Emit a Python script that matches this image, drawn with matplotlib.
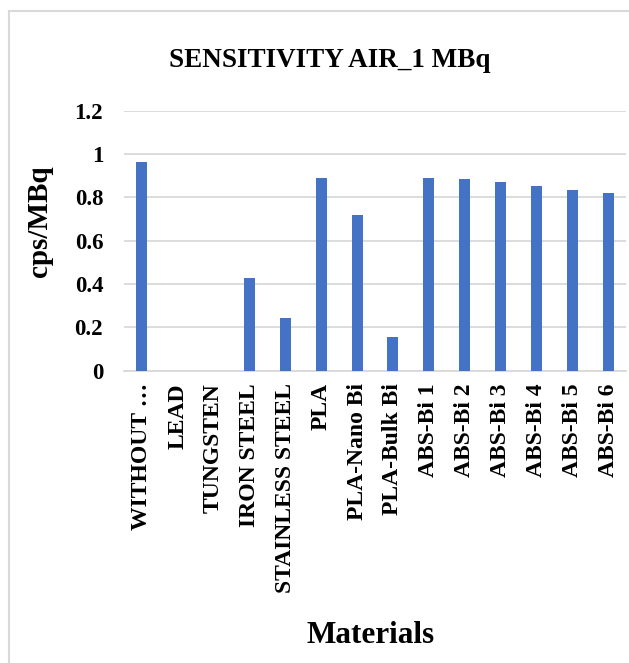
import matplotlib
matplotlib.use("Agg")
import matplotlib.pyplot as plt
from matplotlib.patches import Rectangle

# sensitivity in air for a 1 MBq source, per shielding material
materials = ["WITHOUT …", "LEAD", "TUNGSTEN", "IRON STEEL", "STAINLESS STEEL",
             "PLA", "PLA-Nano Bi", "PLA-Bulk Bi", "ABS-Bi 1", "ABS-Bi 2",
             "ABS-Bi 3", "ABS-Bi 4", "ABS-Bi 5", "ABS-Bi 6"]
sensitivity = [0.963, 0.0, 0.0, 0.429, 0.242, 0.889, 0.72, 0.157,
               0.891, 0.885, 0.869, 0.852, 0.834, 0.819]
yticks = [0, 0.2, 0.4, 0.6, 0.8, 1.0, 1.2]
ytick_labels = ["0", "0.2", "0.4", "0.6", "0.8", "1", "1.2"]

plt.rcParams["font.family"] = ["Liberation Serif", "DejaVu Serif"]
plt.rcParams["font.weight"] = "bold"

W, H = 629, 663
fig = plt.figure(figsize=(W / 100, H / 100), dpi=100)
ax = fig.add_axes([124 / W, 1 - 370.7 / H, 502 / W, 260 / H])

x = range(len(materials))
ax.bar(x, sensitivity, width=0.31, color="#4472C4", zorder=3)

ax.set_xlim(-0.5, len(materials) - 0.5)
ax.set_ylim(0, 1.2)
ax.set_yticks(yticks)
ax.set_yticklabels(ytick_labels, fontsize=16.5, fontweight="bold")
ax.set_xticks(list(x))
ax.set_xticklabels(materials, rotation=90, fontsize=17, fontweight="bold",
                   ha="center", va="top")
ax.tick_params(axis="y", length=0, pad=15)
ax.tick_params(axis="x", length=0, pad=9)

ax.grid(axis="y", color="#d9d9d9", linewidth=1.3, zorder=0)
for side in ["top", "right", "left"]:
    ax.spines[side].set_visible(False)
ax.spines["bottom"].set_color("#d9d9d9")
ax.spines["bottom"].set_linewidth(1.3)

fig.text(330 / W, 1 - 66.7 / H, "SENSITIVITY AIR_1 MBq", ha="center",
         va="baseline", fontsize=19.5, fontweight="bold")
fig.text(40 / W, 1 - 221 / H, "cps/MBq", rotation=90, ha="center",
         va="center", fontsize=21, fontweight="bold")
fig.text(371 / W, 1 - 643 / H, "Materials", ha="center", va="baseline",
         fontsize=22.5, fontweight="bold")

# chart area frame, only its left and top edges fall inside the image
fig.patches.append(Rectangle((9 / W, -0.1), 1.2, 1.1 - 11.5 / H,
                             transform=fig.transFigure, fill=False,
                             edgecolor="#d9d9d9", linewidth=1.5))

fig.savefig("out.png", dpi=100)
